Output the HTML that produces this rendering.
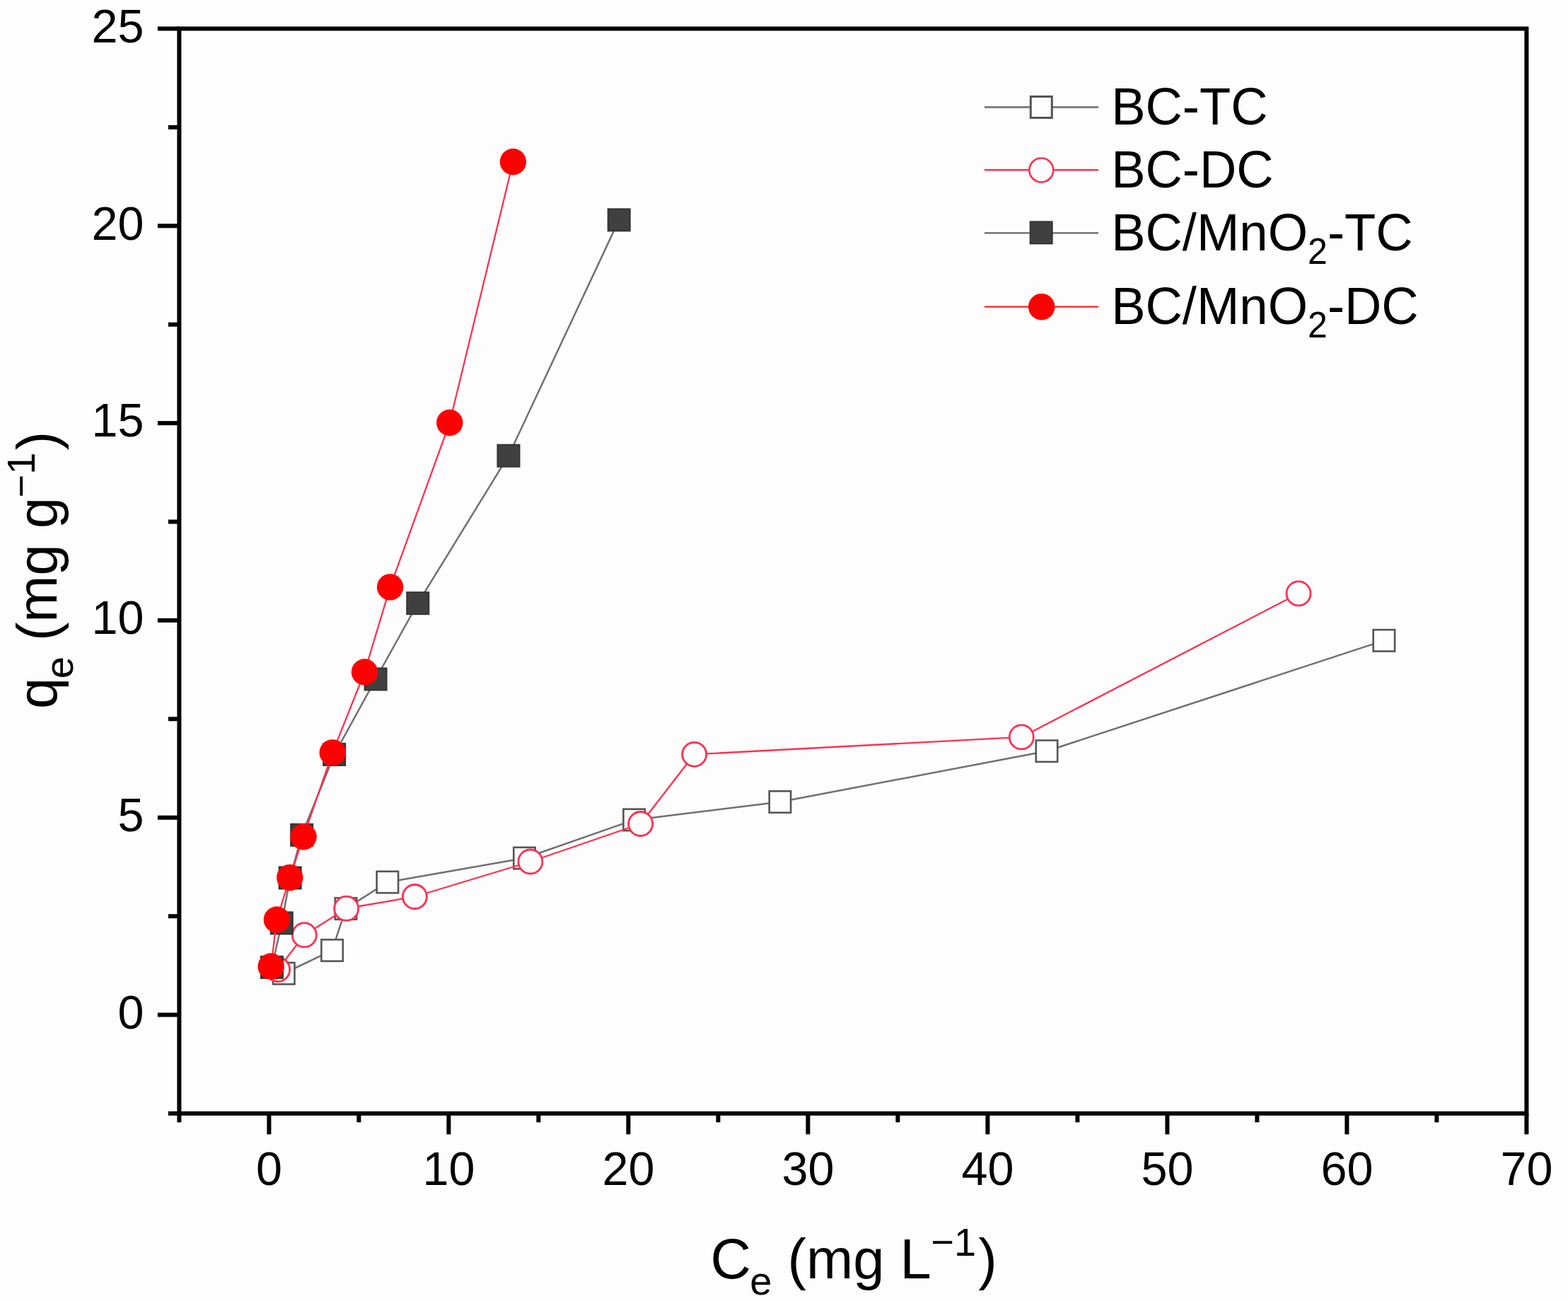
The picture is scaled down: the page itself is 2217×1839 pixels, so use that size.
<!DOCTYPE html>
<html><head><meta charset="utf-8"><title>qe vs Ce adsorption isotherms</title>
<style>html,body{margin:0;padding:0;background:#fdfdfd;}body{width:2217px;height:1839px;overflow:hidden;}svg{display:block;}text{font-family:'Liberation Sans', Arial, Helvetica, sans-serif;fill:#000;white-space:pre;}</style>
</head><body>
<svg width="2217" height="1839" viewBox="0 0 2217 1839">
<rect x="0" y="0" width="2217" height="1839" fill="#fdfdfd"/>
<g id="bc-tc">
<polyline fill="none" stroke="#707070" stroke-width="2.5" stroke-linejoin="round" points="401.3,1376 469.6,1343.4 489,1284.4 547.9,1247 741.5,1213 896.6,1158.9 1102.9,1133.5 1480,1061.7 1956.9,905.4"/>
<rect x="386.1" y="1360.8" width="30.4" height="30.4" fill="#fdfdfd" stroke="#555555" stroke-width="2.6"/>
<rect x="454.4" y="1328.2" width="30.4" height="30.4" fill="#fdfdfd" stroke="#555555" stroke-width="2.6"/>
<rect x="473.8" y="1269.2" width="30.4" height="30.4" fill="#fdfdfd" stroke="#555555" stroke-width="2.6"/>
<rect x="532.7" y="1231.8" width="30.4" height="30.4" fill="#fdfdfd" stroke="#555555" stroke-width="2.6"/>
<rect x="726.3" y="1197.8" width="30.4" height="30.4" fill="#fdfdfd" stroke="#555555" stroke-width="2.6"/>
<rect x="881.4" y="1143.7" width="30.4" height="30.4" fill="#fdfdfd" stroke="#555555" stroke-width="2.6"/>
<rect x="1087.7" y="1118.3" width="30.4" height="30.4" fill="#fdfdfd" stroke="#555555" stroke-width="2.6"/>
<rect x="1464.8" y="1046.5" width="30.4" height="30.4" fill="#fdfdfd" stroke="#555555" stroke-width="2.6"/>
<rect x="1941.7" y="890.2" width="30.4" height="30.4" fill="#fdfdfd" stroke="#555555" stroke-width="2.6"/>
</g>
<g id="bc-dc">
<polyline fill="none" stroke="#ff3050" stroke-width="2.3" stroke-linejoin="round" points="392.7,1370.5 430.3,1321.7 489.7,1284.2 586.4,1267.5 749.9,1218 905.7,1164.5 981.7,1066.3 1444.3,1041.9 1836,838.9"/>
<circle cx="392.7" cy="1370.5" r="17" fill="#fdfdfd" stroke="#ff3050" stroke-width="2.8"/>
<circle cx="430.3" cy="1321.7" r="17" fill="#fdfdfd" stroke="#ff3050" stroke-width="2.8"/>
<circle cx="489.7" cy="1284.2" r="17" fill="#fdfdfd" stroke="#ff3050" stroke-width="2.8"/>
<circle cx="586.4" cy="1267.5" r="17" fill="#fdfdfd" stroke="#ff3050" stroke-width="2.8"/>
<circle cx="749.9" cy="1218" r="17" fill="#fdfdfd" stroke="#ff3050" stroke-width="2.8"/>
<circle cx="905.7" cy="1164.5" r="17" fill="#fdfdfd" stroke="#ff3050" stroke-width="2.8"/>
<circle cx="981.7" cy="1066.3" r="17" fill="#fdfdfd" stroke="#ff3050" stroke-width="2.8"/>
<circle cx="1444.3" cy="1041.9" r="17" fill="#fdfdfd" stroke="#ff3050" stroke-width="2.8"/>
<circle cx="1836" cy="838.9" r="17" fill="#fdfdfd" stroke="#ff3050" stroke-width="2.8"/>
</g>
<g id="bcmn-tc">
<polyline fill="none" stroke="#707070" stroke-width="2.5" stroke-linejoin="round" points="384.5,1367.3 398.3,1304.8 410.2,1240.9 426.7,1180.3 472.7,1066.5 531.1,960 590.8,852.7 719,644.2 875.2,310.9"/>
<rect x="369" y="1351.8" width="31" height="31" fill="#404040" stroke="#333333" stroke-width="2"/>
<rect x="382.8" y="1289.3" width="31" height="31" fill="#404040" stroke="#333333" stroke-width="2"/>
<rect x="394.7" y="1225.4" width="31" height="31" fill="#404040" stroke="#333333" stroke-width="2"/>
<rect x="411.2" y="1164.8" width="31" height="31" fill="#404040" stroke="#333333" stroke-width="2"/>
<rect x="457.2" y="1051" width="31" height="31" fill="#404040" stroke="#333333" stroke-width="2"/>
<rect x="515.6" y="944.5" width="31" height="31" fill="#404040" stroke="#333333" stroke-width="2"/>
<rect x="575.3" y="837.2" width="31" height="31" fill="#404040" stroke="#333333" stroke-width="2"/>
<rect x="703.5" y="628.7" width="31" height="31" fill="#404040" stroke="#333333" stroke-width="2"/>
<rect x="859.7" y="295.4" width="31" height="31" fill="#404040" stroke="#333333" stroke-width="2"/>
</g>
<g id="bcmn-dc">
<polyline fill="none" stroke="#ff3050" stroke-width="2.3" stroke-linejoin="round" points="383.2,1366 391.4,1300 409.8,1240.5 429.1,1182.7 470.2,1063.9 515.5,950 551.6,829.9 635.8,597.5 725.4,228.8"/>
<circle cx="383.2" cy="1366" r="18.7" fill="#ff0000"/>
<circle cx="391.4" cy="1300" r="18.7" fill="#ff0000"/>
<circle cx="409.8" cy="1240.5" r="18.7" fill="#ff0000"/>
<circle cx="429.1" cy="1182.7" r="18.7" fill="#ff0000"/>
<circle cx="470.2" cy="1063.9" r="18.7" fill="#ff0000"/>
<circle cx="515.5" cy="950" r="18.7" fill="#ff0000"/>
<circle cx="551.6" cy="829.9" r="18.7" fill="#ff0000"/>
<circle cx="635.8" cy="597.5" r="18.7" fill="#ff0000"/>
<circle cx="725.4" cy="228.8" r="18.7" fill="#ff0000"/>
</g>
<g id="axes" stroke="#000" stroke-width="6" fill="none" stroke-linecap="butt">
<rect x="253.4" y="40.5" width="1905" height="1533.4"/>
<line x1="237.9" y1="1573.9" x2="253.4" y2="1573.9"/>
<line x1="222.9" y1="1434.5" x2="253.4" y2="1434.5"/>
<line x1="237.9" y1="1295.1" x2="253.4" y2="1295.1"/>
<line x1="222.9" y1="1155.7" x2="253.4" y2="1155.7"/>
<line x1="237.9" y1="1016.3" x2="253.4" y2="1016.3"/>
<line x1="222.9" y1="876.9" x2="253.4" y2="876.9"/>
<line x1="237.9" y1="737.5" x2="253.4" y2="737.5"/>
<line x1="222.9" y1="598.1" x2="253.4" y2="598.1"/>
<line x1="237.9" y1="458.7" x2="253.4" y2="458.7"/>
<line x1="222.9" y1="319.3" x2="253.4" y2="319.3"/>
<line x1="237.9" y1="179.9" x2="253.4" y2="179.9"/>
<line x1="222.9" y1="40.5" x2="253.4" y2="40.5"/>
<line x1="253.4" y1="1573.9" x2="253.4" y2="1586.4"/>
<line x1="380.4" y1="1573.9" x2="380.4" y2="1603.4"/>
<line x1="507.4" y1="1573.9" x2="507.4" y2="1586.4"/>
<line x1="634.4" y1="1573.9" x2="634.4" y2="1603.4"/>
<line x1="761.4" y1="1573.9" x2="761.4" y2="1586.4"/>
<line x1="888.4" y1="1573.9" x2="888.4" y2="1603.4"/>
<line x1="1015.4" y1="1573.9" x2="1015.4" y2="1586.4"/>
<line x1="1142.4" y1="1573.9" x2="1142.4" y2="1603.4"/>
<line x1="1269.4" y1="1573.9" x2="1269.4" y2="1586.4"/>
<line x1="1396.4" y1="1573.9" x2="1396.4" y2="1603.4"/>
<line x1="1523.4" y1="1573.9" x2="1523.4" y2="1586.4"/>
<line x1="1650.4" y1="1573.9" x2="1650.4" y2="1603.4"/>
<line x1="1777.4" y1="1573.9" x2="1777.4" y2="1586.4"/>
<line x1="1904.4" y1="1573.9" x2="1904.4" y2="1603.4"/>
<line x1="2031.4" y1="1573.9" x2="2031.4" y2="1586.4"/>
<line x1="2158.4" y1="1573.9" x2="2158.4" y2="1603.4"/>
</g>
<g id="ylabels">
<text x="203.5" y="1453.7" font-size="66.5" text-anchor="end">0</text>
<text x="203.5" y="1174.9" font-size="66.5" text-anchor="end">5</text>
<text x="203.5" y="896.1" font-size="66.5" text-anchor="end">10</text>
<text x="203.5" y="617.3" font-size="66.5" text-anchor="end">15</text>
<text x="203.5" y="338.5" font-size="66.5" text-anchor="end">20</text>
<text x="203.5" y="59.7" font-size="66.5" text-anchor="end">25</text>
</g>
<g id="xlabels">
<text x="380.4" y="1674.5" font-size="66.5" text-anchor="middle">0</text>
<text x="634.4" y="1674.5" font-size="66.5" text-anchor="middle">10</text>
<text x="888.4" y="1674.5" font-size="66.5" text-anchor="middle">20</text>
<text x="1142.4" y="1674.5" font-size="66.5" text-anchor="middle">30</text>
<text x="1396.4" y="1674.5" font-size="66.5" text-anchor="middle">40</text>
<text x="1650.4" y="1674.5" font-size="66.5" text-anchor="middle">50</text>
<text x="1904.4" y="1674.5" font-size="66.5" text-anchor="middle">60</text>
<text x="2158.4" y="1674.5" font-size="66.5" text-anchor="middle">70</text>
</g>
<g id="xtitle">
<text font-size="79.5"><tspan x="1004.463" y="1807">C</tspan><tspan x="1060.275" y="1829.5" font-size="56">e</tspan><tspan x="1091.42" y="1807"> (mg L</tspan><tspan x="1316.222" y="1775.3" font-size="56">−1</tspan><tspan x="1383.369" y="1807">)</tspan></text>
</g>
<g id="ytitle" transform="translate(80.4 1001.938) rotate(-90)">
<text font-size="79.5"><tspan x="0" y="0">q</tspan><tspan x="42.614" y="22.5" font-size="56">e</tspan><tspan x="73.759" y="0"> (mg g</tspan><tspan x="298.56" y="-31.7" font-size="56">−1</tspan><tspan x="365.708" y="0">)</tspan></text>
</g>
<g id="legend">
<line x1="1392" y1="151.6" x2="1553" y2="151.6" stroke="#808080" stroke-width="3"/>
<rect x="1457.3" y="136.5" width="30" height="30" fill="#fdfdfd" stroke="#555555" stroke-width="3"/>
<line x1="1392" y1="240.2" x2="1553" y2="240.2" stroke="#ff3050" stroke-width="2.4"/>
<circle cx="1472.3" cy="240.5" r="17" fill="#fdfdfd" stroke="#ff3050" stroke-width="2.6"/>
<line x1="1392" y1="329.3" x2="1553" y2="329.3" stroke="#666666" stroke-width="2.2"/>
<rect x="1456.7" y="313.4" width="31" height="31" fill="#404040" stroke="#333333" stroke-width="2"/>
<line x1="1392" y1="433.6" x2="1553" y2="433.6" stroke="#ff2020" stroke-width="2.2"/>
<circle cx="1472.7" cy="433.7" r="18.8" fill="#ff0000"/>
<text transform="translate(1571.153 176) scale(1 1.035)" font-size="72.5">BC-TC</text>
<text transform="translate(1571.153 264.5) scale(1 1.035)" font-size="72.5">BC-DC</text>
<text transform="translate(1571.153 354.4) scale(1 1.035)" font-size="72.5">BC/MnO<tspan font-size="50" dy="18.357">2</tspan><tspan dy="-18.357">-TC</tspan></text>
<text transform="translate(1571.153 458.3) scale(1 1.035)" font-size="72.5">BC/MnO<tspan font-size="50" dy="18.357">2</tspan><tspan dy="-18.357">-DC</tspan></text>
</g>
</svg>
</body></html>
